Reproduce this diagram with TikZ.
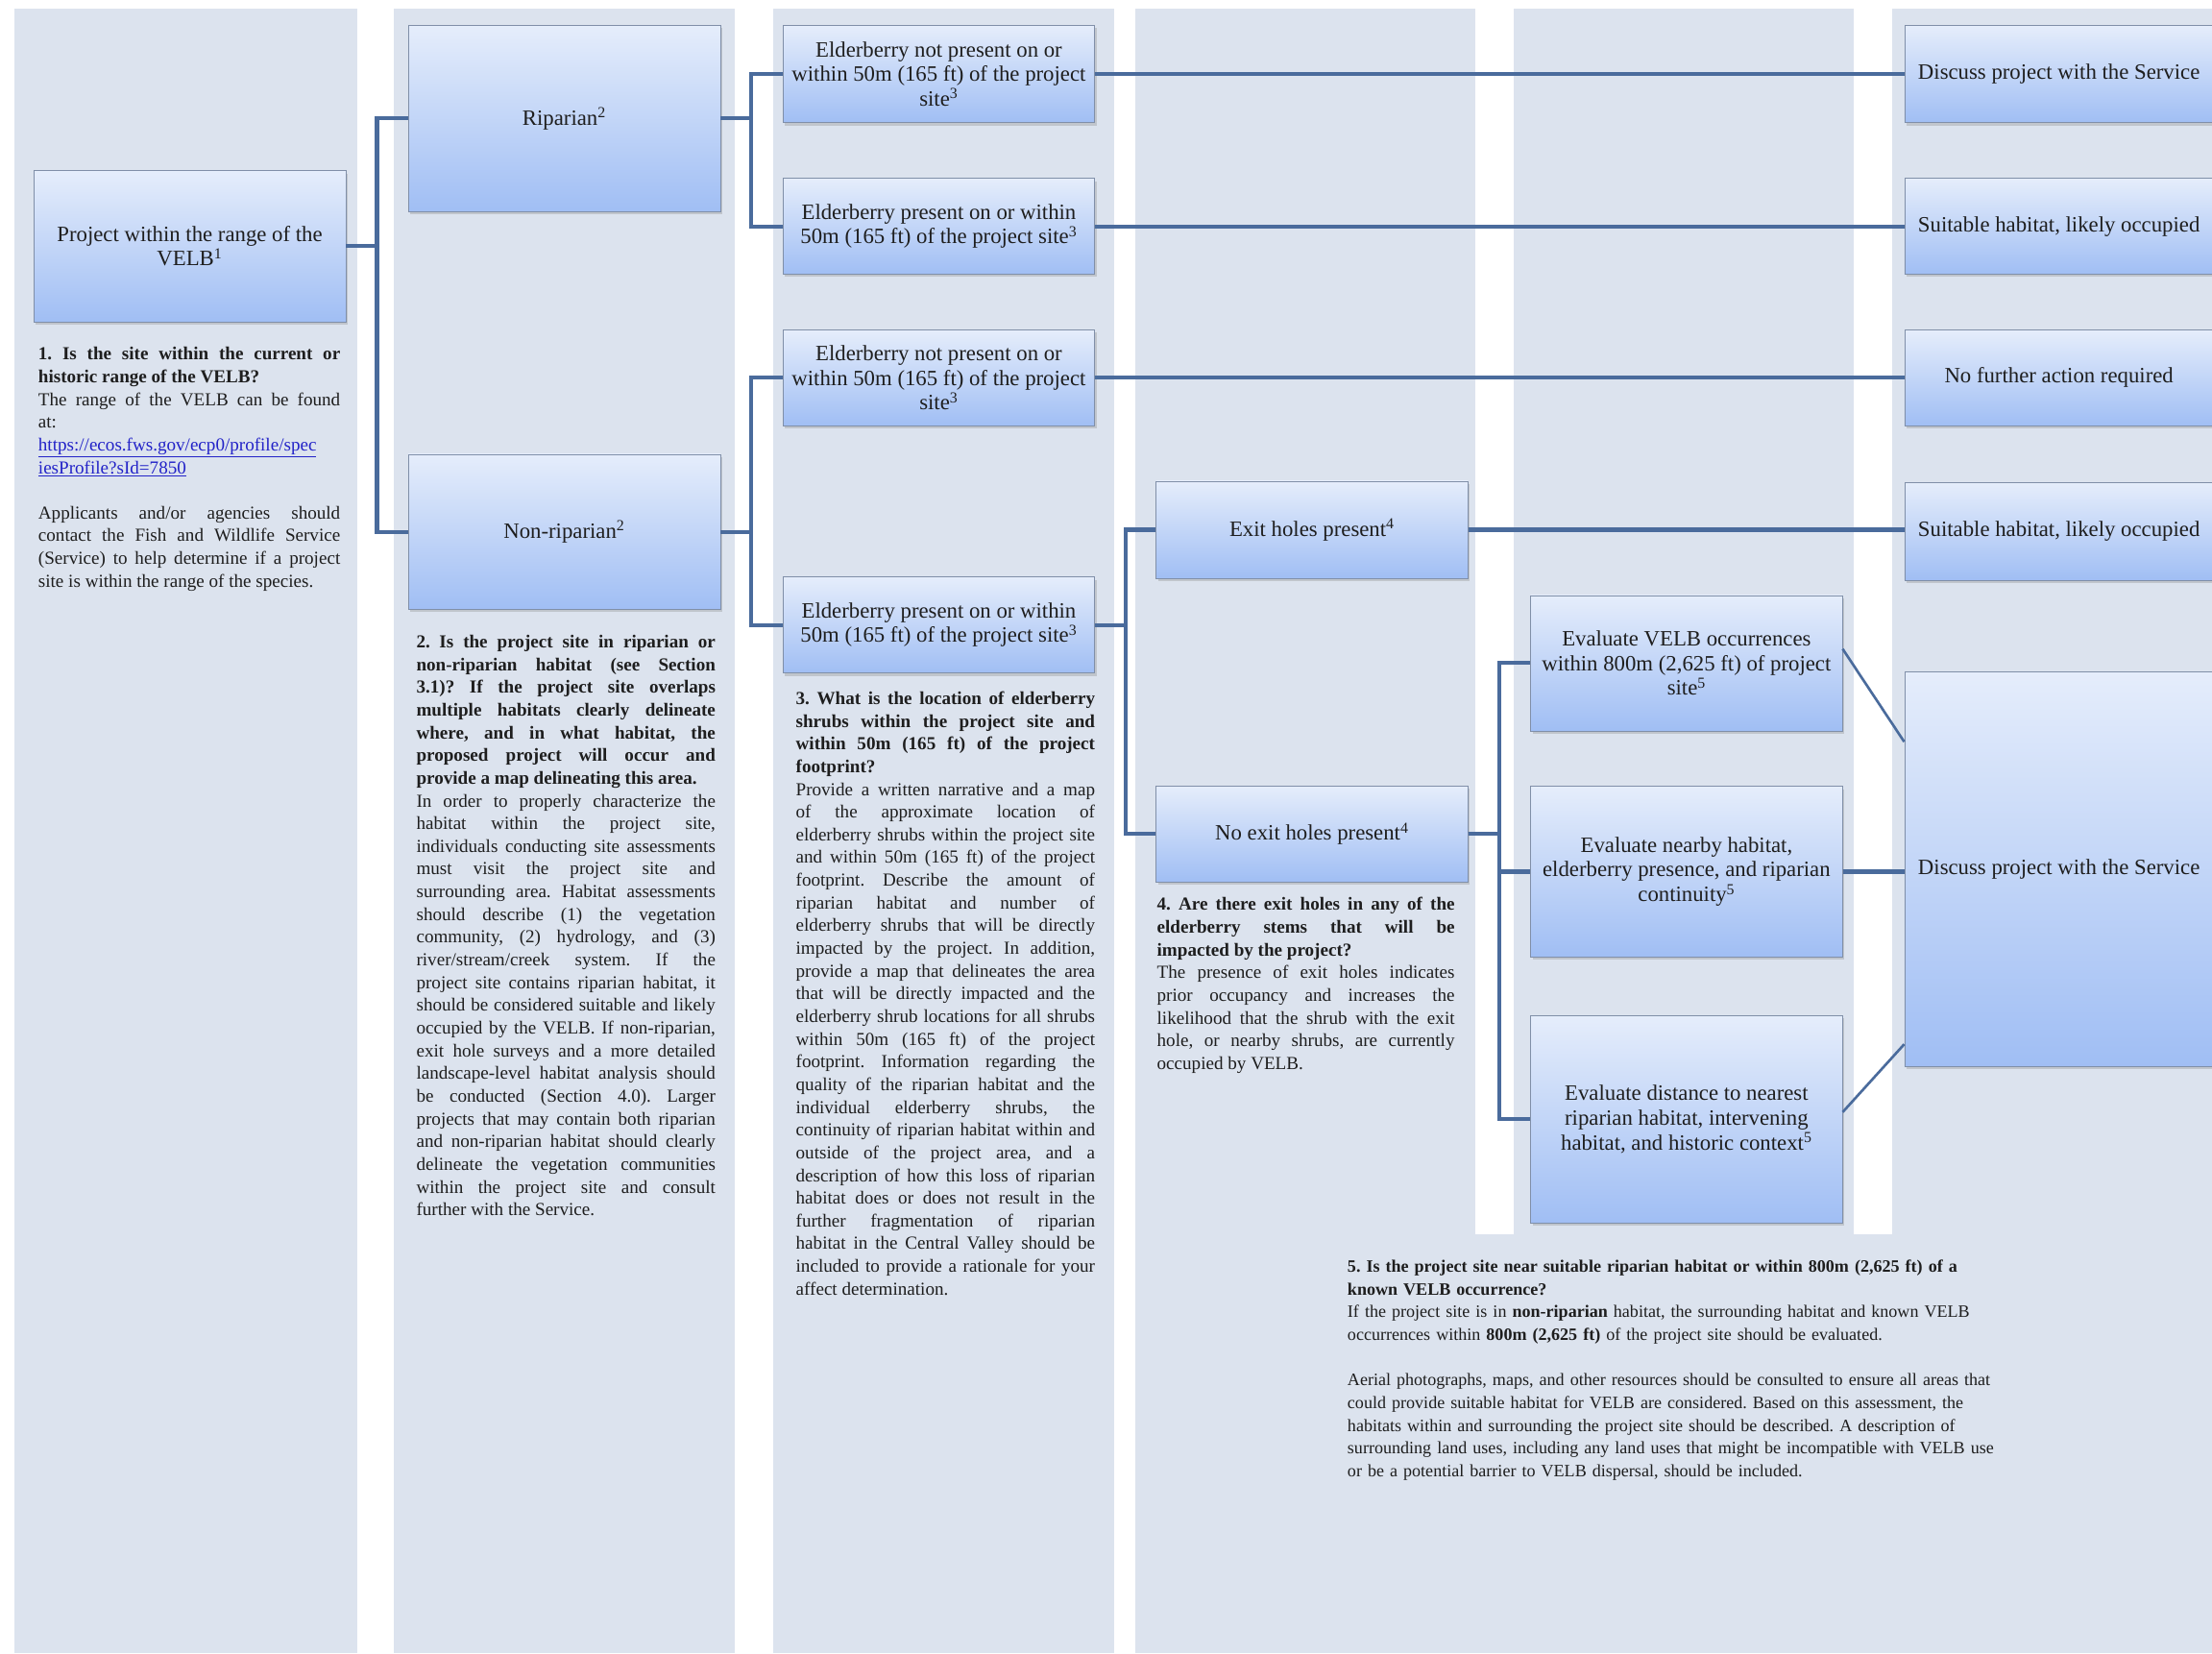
\documentclass[tikz,border=0pt]{standalone}
\usepackage{fontspec}
\setmainfont{Liberation Serif}
\usetikzlibrary{positioning,shadows}
\definecolor{colbg}{RGB}{220,227,238}
\definecolor{bxtop}{RGB}{229,237,251}
\definecolor{bxbot}{RGB}{160,190,244}
\definecolor{bxline}{RGB}{128,143,168}
\definecolor{wirec}{RGB}{74,107,156}
\definecolor{linkblue}{RGB}{35,35,200}
\definecolor{ink}{RGB}{30,30,30}
\newcommand\boxfont{\fontsize{15.5}{17.5}\selectfont}
\newcommand\qfont{\fontsize{13}{16.1}\selectfont\tolerance=10000\hyphenpenalty=10000}
\frenchspacing

\begin{document}
\begin{tikzpicture}[x=1pt,y=-1pt,text=ink,
stage/.style={draw=bxline,top color=bxtop,bottom color=bxbot,minimum width=221pt,inner sep=2pt,align=center,font=\boxfont,drop shadow={opacity=0.3,shadow xshift=1.5pt,shadow yshift=-2pt}},
qtext/.style={anchor=north west,inner sep=0pt,text width=#1,align=justify,font=\qfont},
wire/.style={draw=wirec,line width=2.8pt},
slant/.style={draw=wirec,line width=1.8pt}]
\useasboundingbox (0,0) rectangle (1568,1172);
\clip (0,0) rectangle (1568,1172);
\fill[white] (0,0) rectangle (1568,1172);
\foreach \a/\b in {10/253,279/521,548/790,805/1046,1073/1314,1341/1580}
  \fill[colbg] (\a,6) rectangle (\b,1172);
\fill[colbg] (805,875) rectangle (1580,1172);

\node[stage,minimum height=107pt] (proj) at (134.5,174.5) {Project within the range of the\\ VELB\textsuperscript{1}};
\node[stage,minimum height=132pt] (rip) at (400,84) {Riparian\textsuperscript{2}};
\node[stage,minimum height=110pt] (nrip) at (400,377) {Non-riparian\textsuperscript{2}};
\node[stage,minimum height=69pt] (e1) at (665.5,52.5) {Elderberry not present on or\\ within 50m (165 ft) of the project\\ site\textsuperscript{3}};
\node[stage,minimum height=68pt,below=39pt of e1] (e2) {Elderberry present on or within\\ 50m (165 ft) of the project site\textsuperscript{3}};
\node[stage,minimum height=68pt,below=39pt of e2] (e3) {Elderberry not present on or\\ within 50m (165 ft) of the project\\ site\textsuperscript{3}};
\node[stage,minimum height=68pt] (e4) at (665.5,443) {Elderberry present on or within\\ 50m (165 ft) of the project site\textsuperscript{3}};
\node[stage,minimum height=69pt] (ex) at (930,375.5) {Exit holes present\textsuperscript{4}};
\node[stage,minimum height=68pt] (nex) at (930,591) {No exit holes present\textsuperscript{4}};
\node[stage,minimum height=96pt] (v1) at (1195.5,470) {Evaluate VELB occurrences\\ within 800m (2,625 ft) of project\\ site\textsuperscript{5}};
\node[stage,minimum height=121pt,below=39pt of v1] (v2) {Evaluate nearby habitat,\\ elderberry presence, and riparian\\ continuity\textsuperscript{5}};
\node[stage,minimum height=147pt,below=41pt of v2] (v3) {Evaluate distance to nearest\\ riparian habitat, intervening\\ habitat, and historic context\textsuperscript{5}};
\node[stage,minimum width=219pt,minimum height=69pt] (o1) at (1459.5,52.5) {Discuss project with the Service};
\node[stage,minimum width=219pt,minimum height=68pt,below=39pt of o1] (o2) {Suitable habitat, likely occupied};
\node[stage,minimum width=219pt,minimum height=68pt,below=39pt of o2] (o3) {No further action required};
\node[stage,minimum width=219pt,minimum height=69pt,below=40pt of o3] (o4) {Suitable habitat, likely occupied};
\node[stage,minimum width=219pt,minimum height=280pt] (o5) at (1459.5,616) {Discuss project with the Service};

\draw[wire] (proj.east) -- ++(22,0) |- (rip.west);
\draw[wire] (proj.east) -- ++(22,0) |- (nrip.west);
\draw[wire] (rip.east) -- ++(22,0) |- (e1.west);
\draw[wire] (rip.east) -- ++(22,0) |- (e2.west);
\draw[wire] (nrip.east) -- ++(22,0) |- (e3.west);
\draw[wire] (nrip.east) -- ++(22,0) |- (e4.west);
\draw[wire] (e1.east) -- (e1.east -| o1.west);
\draw[wire] (e2.east) -- (e2.east -| o2.west);
\draw[wire] (e3.east) -- (e3.east -| o3.west);
\draw[wire] (e4.east) -- ++(21.5,0) |- (ex.west);
\draw[wire] (e4.east) -- ++(21.5,0) |- (nex.west);
\draw[wire] (ex.east) -- (ex.east -| o4.west);
\draw[wire] (nex.east) -- ++(22,0) |- (v1.west);
\draw[wire] (nex.east) -- ++(22,0) |- (v2.west);
\draw[wire] (nex.east) -- ++(22,0) |- (v3.west);
\draw[wire] (v2.east) -- (v2.east -| o5.west);
\draw[slant] ([yshift=10pt]v1.east) -- ([yshift=-50pt]o5.north west);
\draw[slant] ([yshift=5pt]v3.east) -- ([yshift=16pt]o5.south west);

\node[qtext=214pt] (q1) at (27,246) {\textbf{1. Is the site within the current or\linebreak historic range of the VELB?}\\
The range of the VELB can be found\linebreak at:\\
\textcolor{linkblue}{\underline{https://ecos.fws.gov/ecp0/profile/spec}}\\
\textcolor{linkblue}{\underline{iesProfile?sId=7850}}\\[16pt]
Applicants and/or agencies should\linebreak contact the Fish and Wildlife Service\linebreak (Service) to help determine if a project\linebreak site is within the range of the species.};
\node[qtext=212pt] (q2) at (295,450) {\textbf{2.\enspace Is the project site in riparian or\linebreak non-riparian habitat (see Section\linebreak 3.1)? If the project site overlaps\linebreak multiple habitats clearly delineate\linebreak where, and in what habitat, the\linebreak proposed project will occur and\linebreak provide a map delineating this area.}\\
In order to properly characterize the\linebreak habitat within the project site,\linebreak individuals conducting site assessments\linebreak must visit the project site and\linebreak surrounding area. Habitat assessments\linebreak should describe (1) the vegetation\linebreak community, (2) hydrology, and (3)\linebreak river/stream/creek system. If the\linebreak project site contains riparian habitat, it\linebreak should be considered suitable and likely\linebreak occupied by the VELB. If non-riparian,\linebreak exit hole surveys and a more detailed\linebreak landscape-level habitat analysis should\linebreak be conducted (Section 4.0). Larger\linebreak projects that may contain both riparian\linebreak and non-riparian habitat should clearly\linebreak delineate the vegetation communities\linebreak within the project site and consult\linebreak further with the Service.};
\node[qtext=212pt] (q3) at (564,490) {\textbf{3. What is the location of elderberry\linebreak shrubs within the project site and\linebreak within 50m (165 ft) of the project\linebreak footprint?}\\
Provide a written narrative and a map\linebreak of the approximate location of\linebreak elderberry shrubs within the project site\linebreak and within 50m (165 ft) of the project\linebreak footprint. Describe the amount of\linebreak riparian habitat and number of\linebreak elderberry shrubs that will be directly\linebreak impacted by the project. In addition,\linebreak provide a map that delineates the area\linebreak that will be directly impacted and the\linebreak elderberry shrub locations for all shrubs\linebreak within 50m (165 ft) of the project\linebreak footprint. Information regarding the\linebreak quality of the riparian habitat and the\linebreak individual elderberry shrubs, the\linebreak continuity of riparian habitat within and\linebreak outside of the project area, and a\linebreak description of how this loss of riparian\linebreak habitat does or does not result in the\linebreak further fragmentation of riparian\linebreak habitat in the Central Valley should be\linebreak included to provide a rationale for your\linebreak affect determination.};
\node[qtext=211pt] (q4) at (820,636) {\textbf{4. Are there exit holes in any of the\linebreak elderberry stems that will be\linebreak impacted by the project?}\\
The presence of exit holes indicates\linebreak prior occupancy and increases the\linebreak likelihood that the shrub with the exit\linebreak hole, or nearby shrubs, are currently\linebreak occupied by VELB.};
\node[anchor=north west,inner sep=0pt,text width=490pt,align=left,font=\fontsize{12.3}{16.1}\selectfont] (q5) at (955,893) {\textbf{5. Is the project site near suitable riparian habitat or within 800m (2,625 ft) of a}\\
\textbf{known VELB occurrence?}\\
If the project site is in \textbf{non-riparian} habitat, the surrounding habitat and known VELB\\
occurrences within \textbf{800m (2,625 ft)} of the project site should be evaluated.\\[16pt]
Aerial photographs, maps, and other resources should be consulted to ensure all areas that\\
could provide suitable habitat for VELB are considered. Based on this assessment, the\\
habitats within and surrounding the project site should be described. A description of\\
surrounding land uses, including any land uses that might be incompatible with VELB use\\
or be a potential barrier to VELB dispersal, should be included.};
\end{tikzpicture}
\end{document}
